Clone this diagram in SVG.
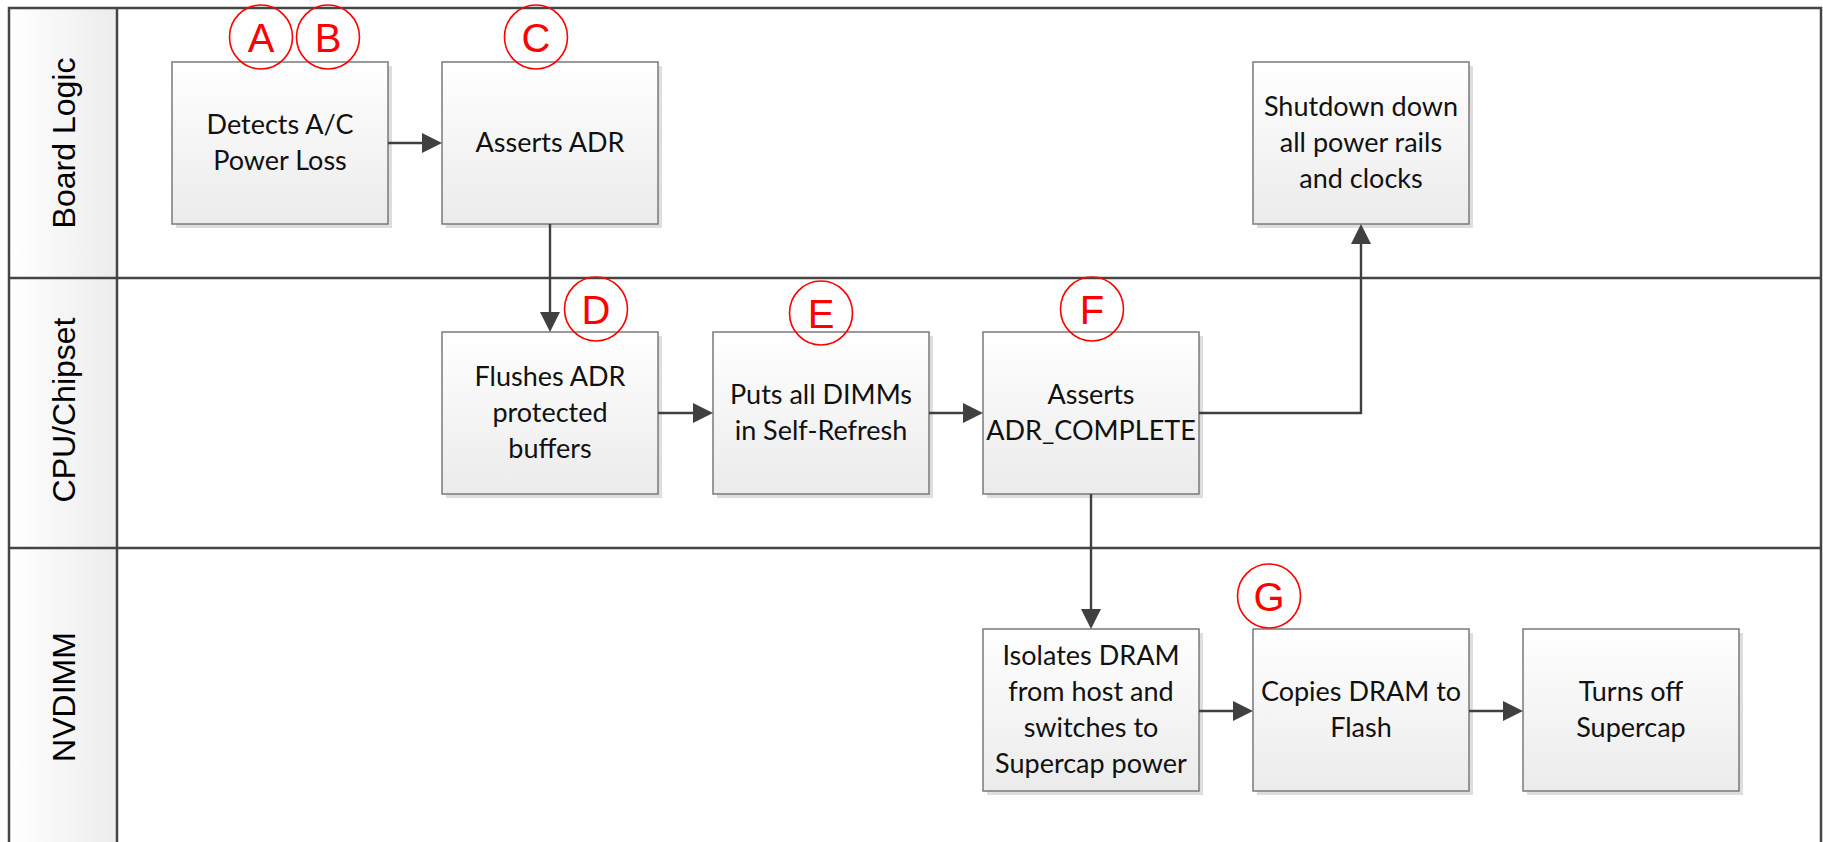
<svg xmlns="http://www.w3.org/2000/svg" width="1823" height="842" viewBox="0 0 1823 842">
  <style>
    .lane-line { stroke: #454545; stroke-width: 2.5; fill: none; }
    .lane-label { font-family: "Liberation Sans", Arial, sans-serif; font-size: 32px; fill: #000; text-anchor: middle; }
    .box { fill: url(#boxFill); stroke: #7a7a7a; stroke-width: 1.5; }
    .shadow { fill: #dedede; }
    .label { font-family: Lato, "Open Sans", sans-serif; font-size: 27px; fill: #111; text-anchor: middle; }
    .conn { stroke: #404040; stroke-width: 2.4; fill: none; marker-end: url(#arrow); }
    .tag ellipse { fill: none; stroke: #ff0000; stroke-width: 1.6; }
    .tag text { font-family: "Liberation Sans", Arial, sans-serif; font-size: 40px; fill: #ff0000; text-anchor: middle; }
  </style>
  <defs>
    <linearGradient id="boxFill" x1="0" y1="0" x2="0" y2="1">
      <stop offset="0" stop-color="#ffffff"/>
      <stop offset="1" stop-color="#ebebeb"/>
    </linearGradient>
    <linearGradient id="headFill" x1="0" y1="0" x2="1" y2="0">
      <stop offset="0" stop-color="#ffffff"/>
      <stop offset="1" stop-color="#ececec"/>
    </linearGradient>
    <!-- filled triangular arrowhead; the line ends at its base -->
    <marker id="arrow" markerUnits="userSpaceOnUse" markerWidth="22" markerHeight="22" viewBox="0 -11 22 22" refX="0" refY="0" orient="auto">
      <path d="M0,-10 L20,0 L0,10 z" fill="#404040"/>
    </marker>
  </defs>

  <rect width="1823" height="842" fill="#ffffff"/>

  <!-- swimlane frame -->
  <g id="lanes">
    <rect x="9" y="8" width="108" height="840" fill="url(#headFill)"/>
    <path class="lane-line" d="M9,848 V8 H1821 V848"/>
    <path class="lane-line" d="M117,8 V848"/>
    <path class="lane-line" d="M9,278 H1821"/>
    <path class="lane-line" d="M9,548 H1821"/>
    <text class="lane-label" transform="translate(75,143) rotate(-90)">Board Logic</text>
    <text class="lane-label" transform="translate(75,410) rotate(-90)">CPU/Chipset</text>
    <text class="lane-label" transform="translate(75,697) rotate(-90)">NVDIMM</text>
  </g>

  <!-- process steps -->
  <g id="detects-power-loss">
    <rect class="shadow" x="176" y="66" width="216" height="162"/>
    <rect class="box" x="172" y="62" width="216" height="162"/>
    <text class="label" x="280" y="134">Detects A/C</text>
    <text class="label" x="280" y="170">Power Loss</text>
  </g>
  <g id="asserts-adr">
    <rect class="shadow" x="446" y="66" width="216" height="162"/>
    <rect class="box" x="442" y="62" width="216" height="162"/>
    <text class="label" x="550" y="152">Asserts ADR</text>
  </g>
  <g id="shutdown">
    <rect class="shadow" x="1257" y="66" width="216" height="162"/>
    <rect class="box" x="1253" y="62" width="216" height="162"/>
    <text class="label" x="1361" y="116">Shutdown down</text>
    <text class="label" x="1361" y="152">all power rails</text>
    <text class="label" x="1361" y="188">and clocks</text>
  </g>
  <g id="flushes-adr">
    <rect class="shadow" x="446" y="336" width="216" height="162"/>
    <rect class="box" x="442" y="332" width="216" height="162"/>
    <text class="label" x="550" y="386">Flushes ADR</text>
    <text class="label" x="550" y="422">protected</text>
    <text class="label" x="550" y="458">buffers</text>
  </g>
  <g id="self-refresh">
    <rect class="shadow" x="717" y="336" width="216" height="162"/>
    <rect class="box" x="713" y="332" width="216" height="162"/>
    <text class="label" x="821" y="404">Puts all DIMMs</text>
    <text class="label" x="821" y="440">in Self-Refresh</text>
  </g>
  <g id="adr-complete">
    <rect class="shadow" x="987" y="336" width="216" height="162"/>
    <rect class="box" x="983" y="332" width="216" height="162"/>
    <text class="label" x="1091" y="404">Asserts</text>
    <text class="label" x="1091" y="440">ADR_COMPLETE</text>
  </g>
  <g id="isolates-dram">
    <rect class="shadow" x="987" y="633" width="216" height="162"/>
    <rect class="box" x="983" y="629" width="216" height="162"/>
    <text class="label" x="1091" y="665">Isolates DRAM</text>
    <text class="label" x="1091" y="701">from host and</text>
    <text class="label" x="1091" y="737">switches to</text>
    <text class="label" x="1091" y="773">Supercap power</text>
  </g>
  <g id="copies-dram">
    <rect class="shadow" x="1257" y="633" width="216" height="162"/>
    <rect class="box" x="1253" y="629" width="216" height="162"/>
    <text class="label" x="1361" y="701">Copies DRAM to</text>
    <text class="label" x="1361" y="737">Flash</text>
  </g>
  <g id="supercap-off">
    <rect class="shadow" x="1527" y="633" width="216" height="162"/>
    <rect class="box" x="1523" y="629" width="216" height="162"/>
    <text class="label" x="1631" y="701">Turns off</text>
    <text class="label" x="1631" y="737">Supercap</text>
  </g>

  <!-- connectors -->
  <g id="connectors">
    <path class="conn" d="M388,143 H422"/>
    <path class="conn" d="M550,224 V312"/>
    <path class="conn" d="M658,413 H693"/>
    <path class="conn" d="M929,413 H963"/>
    <path class="conn" d="M1199,413 H1361 V244"/>
    <path class="conn" d="M1091,494 V609"/>
    <path class="conn" d="M1199,711 H1233"/>
    <path class="conn" d="M1469,711 H1503"/>
  </g>

  <!-- step markers -->
  <g id="tag-a" class="tag"><ellipse cx="261" cy="37" rx="31.5" ry="32"/><text x="261" y="52">A</text></g>
  <g id="tag-b" class="tag"><ellipse cx="328" cy="37" rx="31.5" ry="32"/><text x="328" y="52">B</text></g>
  <g id="tag-c" class="tag"><ellipse cx="536" cy="37" rx="31.5" ry="32"/><text x="536" y="52">C</text></g>
  <g id="tag-d" class="tag"><ellipse cx="596" cy="309" rx="31.5" ry="32"/><text x="596" y="324">D</text></g>
  <g id="tag-e" class="tag"><ellipse cx="821" cy="313" rx="31.5" ry="32"/><text x="821" y="328">E</text></g>
  <g id="tag-f" class="tag"><ellipse cx="1092" cy="309" rx="31.5" ry="32"/><text x="1092" y="324">F</text></g>
  <g id="tag-g" class="tag"><ellipse cx="1269" cy="596" rx="31.5" ry="32"/><text x="1269" y="611">G</text></g>
</svg>
